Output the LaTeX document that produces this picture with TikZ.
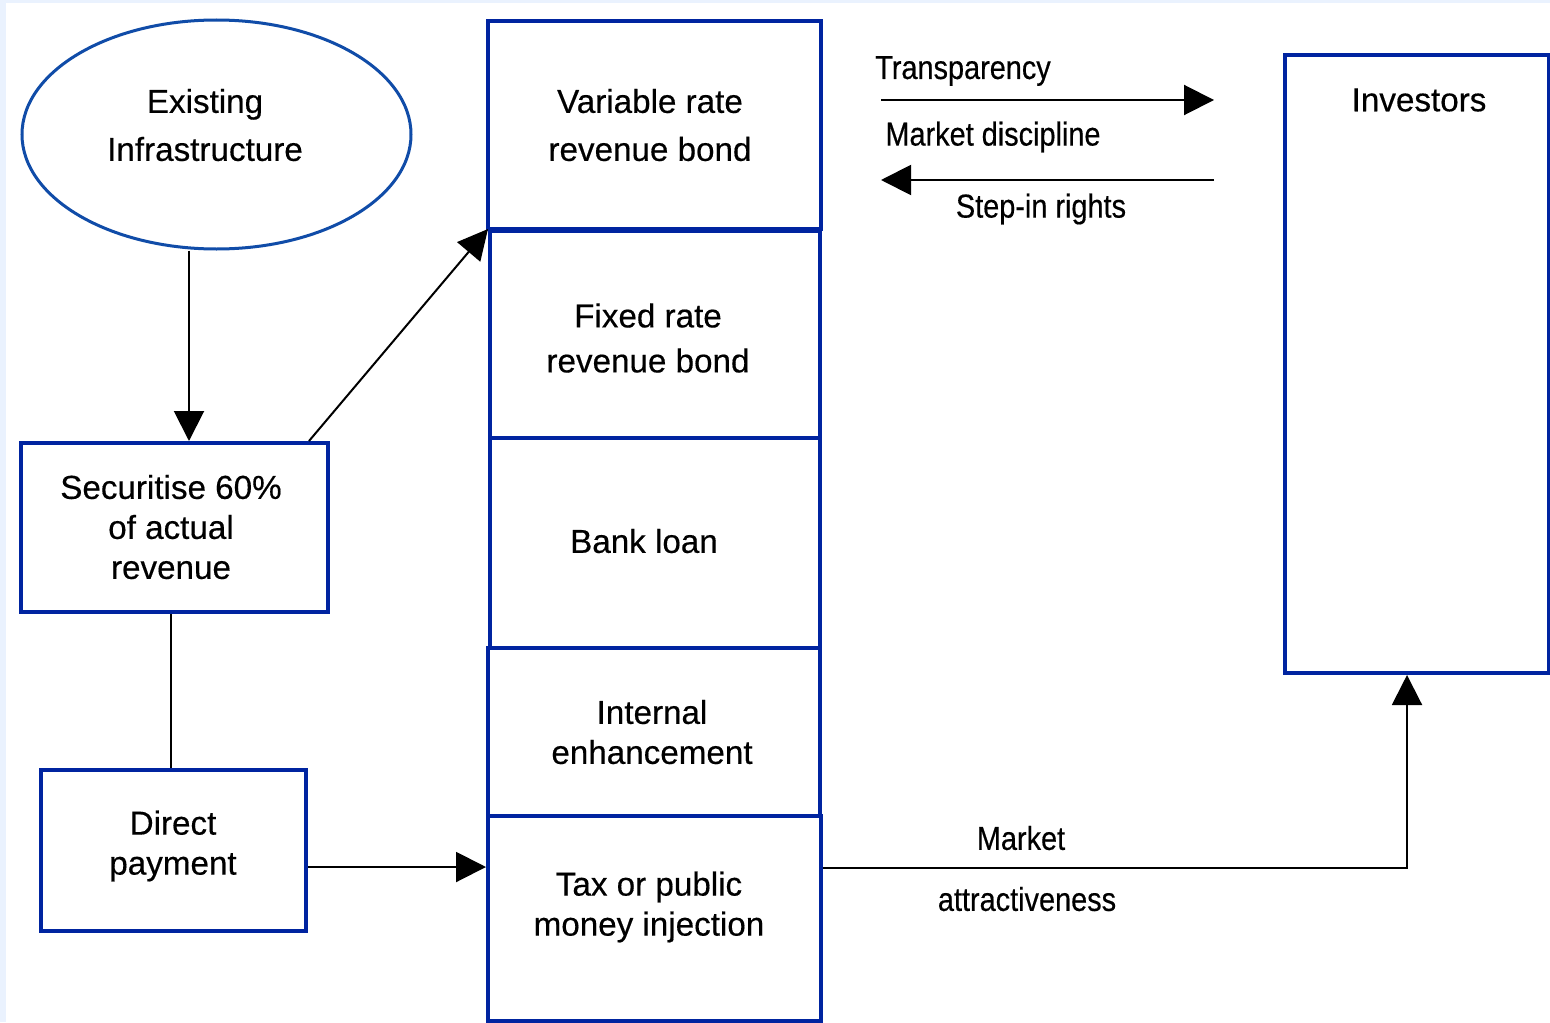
\documentclass[tikz,border=0pt]{standalone}
\usepackage{fontspec}
\setmainfont[FakeBold=0.4]{Liberation Sans}
\newfontfamily\lblfont[FakeStretch=0.87,FakeBold=0.4]{Liberation Sans}
\usetikzlibrary{arrows.meta,shapes.geometric}
\definecolor{boxblue}{RGB}{0,36,160}
\definecolor{ellblue}{RGB}{16,76,168}
\definecolor{bgblue}{RGB}{234,242,254}
\tikzset{
  x=0.5pt, y=-0.5pt,
  blk/.style={draw=boxblue, line width=2pt, rectangle, inner sep=0pt},
  txt/.style={align=center, inner sep=0pt, font=\fontsize{16.6}{20}\selectfont},
  txtw/.style={align=center, inner sep=0pt, font=\fontsize{16.6}{24}\selectfont},
  lbl/.style={inner sep=0pt, font=\lblfont\fontsize{16.6}{20}\selectfont},
  conn/.style={draw=black, line width=1pt},
  arr/.style={conn, -{Triangle[length=15pt,width=15pt]}},
}
\begin{document}
\begin{tikzpicture}
\fill[bgblue] (0,0) rectangle (1550,1022);
\clip (0,0) rectangle (1550,1022);
\fill[white] (6,3) rectangle (1552,1024);
% ellipse
\node[ellipse, draw=ellblue, line width=1.5pt, minimum width=194.5pt, minimum height=114.5pt, inner sep=0pt] (ell) at (216.5,134.5) {};
\node[txtw] (tell) at (205,125) {Existing\\Infrastructure};
% left boxes
\node[blk, minimum width=153.5pt, minimum height=84.5pt] (sec) at (174.5,527.5) {};
\node[txt] (tsec) at (171,527) {Securitise 60\%\\of actual\\revenue};
\node[blk, minimum width=132.5pt, minimum height=80.5pt] (dir) at (173.5,850.5) {};
\node[txt] (tdir) at (173,846) {Direct\\payment};
% middle column
\node[blk, minimum width=166.5pt, minimum height=104pt] (var) at (654.5,125) {};
\node[txtw] (tvar) at (650,125) {Variable rate\\revenue bond};
\node[blk, minimum width=165pt, minimum height=103.5pt] (fix) at (655,334.5) {};
\node[txt, font=\fontsize{16.6}{22.5}\selectfont] (tfix) at (648,338) {Fixed rate\\revenue bond};
\node[blk, minimum width=165pt, minimum height=105pt] (bank) at (655,543) {};
\node[txt] (tbank) at (644,541) {Bank loan};
\node[blk, minimum width=166pt, minimum height=84pt] (int) at (654,732) {};
\node[txt] (tint) at (652,732) {Internal\\enhancement};
\node[blk, minimum width=166.5pt, minimum height=102.5pt] (tax) at (654.5,918.5) {};
\node[txt] (ttax) at (649,907) {Tax or public\\money injection};
% investors
\node[blk, minimum width=132pt, minimum height=309pt] (inv) at (1417,364) {};
\node[txt] (tinv) at (1419,100) {Investors};
% labels
\node[lbl] (ltr) at (963,71) {Transparency};
\node[lbl] (lmd) at (993,137) {Market discipline};
\node[lbl] (lsr) at (1041,209) {Step-in rights};
\node[lbl] (lmk) at (1021,838) {Market};
\node[lbl] (lat) at (1027,899) {attractiveness};
% helper coordinates
\coordinate (x189) at (189,0);
\coordinate (x171) at (171,0);
\coordinate (x309) at (309,0);
\coordinate (y867) at (0,867);
\coordinate (y868) at (0,868);
\coordinate (x1407) at (1407,0);
\coordinate (ta1) at (881,100);
\coordinate (ta2) at (1214,100);
\coordinate (ma1) at (1214,180);
\coordinate (ma2) at (881,180);
% connectors
\draw[arr] (x189 |- ell.south) -- (x189 |- sec.north);
\draw[conn] (x171 |- sec.south) -- (x171 |- dir.north);
\draw[arr] (dir.east |- y867) -- (tax.west |- y867);
\draw[arr] (x309 |- sec.north) -- (fix.north west);
\draw[arr] (ta1) -- (ta2);
\draw[arr] (ma1) -- (ma2);
\draw[arr] (tax.east |- y868) -| (x1407 |- inv.south);
\end{tikzpicture}
\end{document}
